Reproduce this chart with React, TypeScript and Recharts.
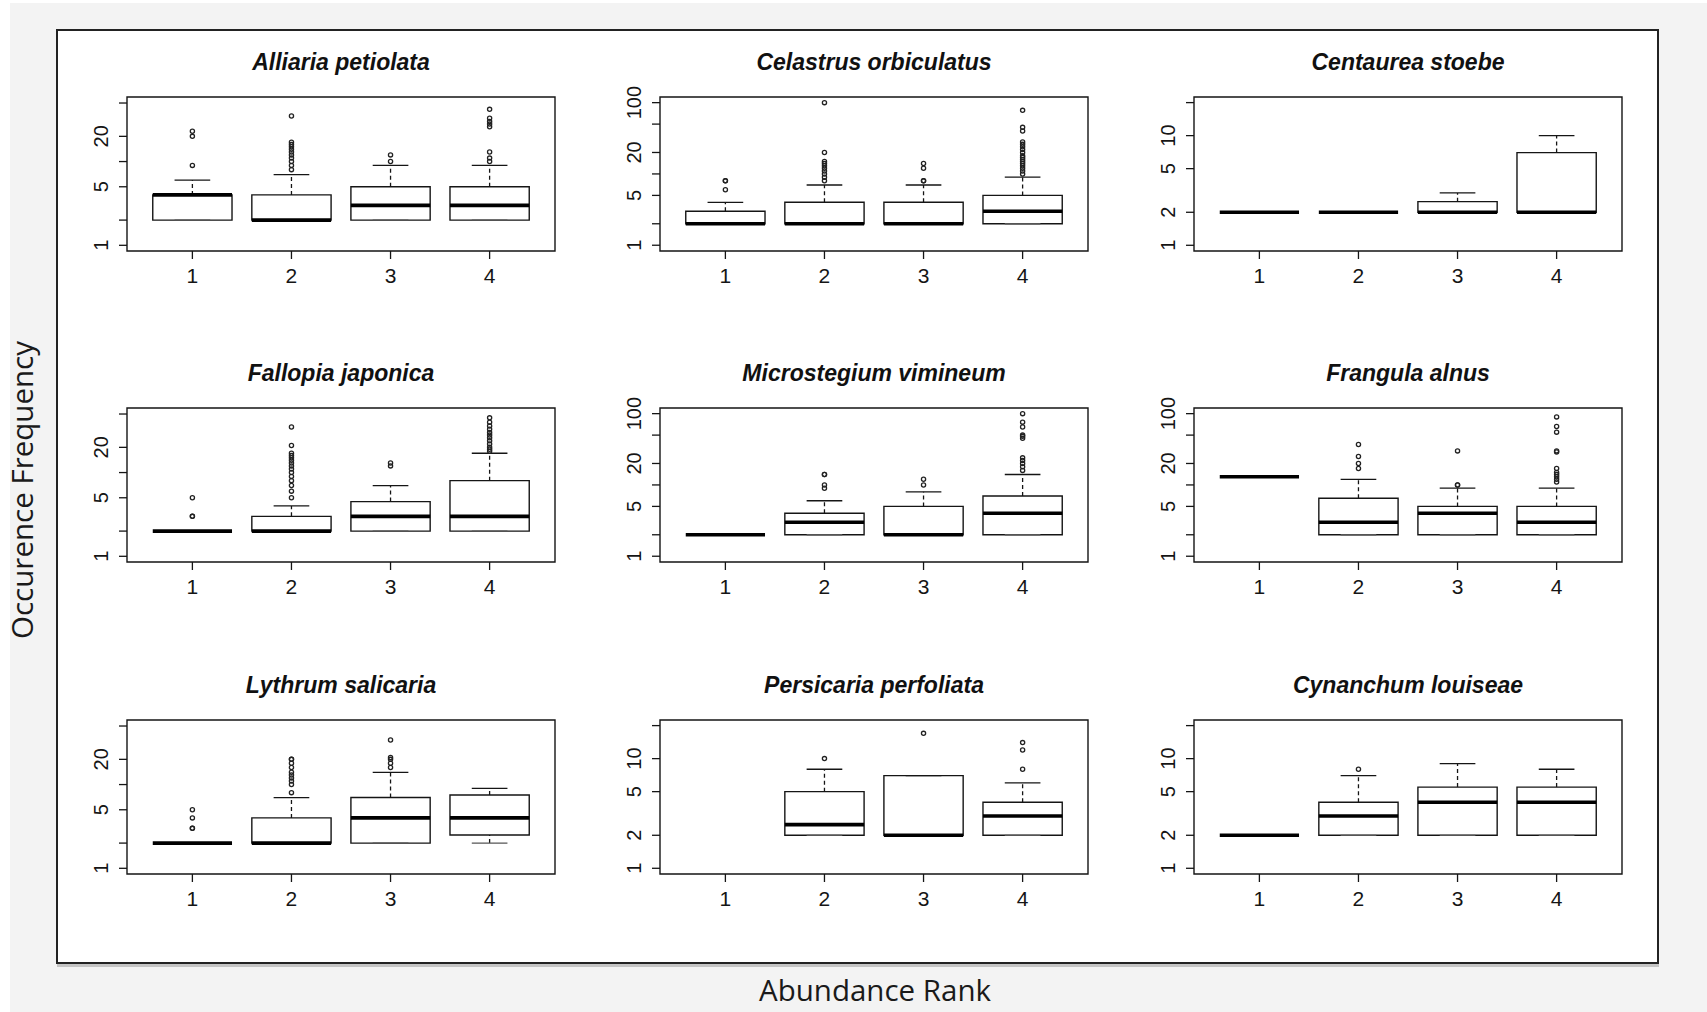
import { ComposedChart, Scatter, XAxis, YAxis, ReferenceArea, ReferenceLine } from 'recharts';

// abundance rank categories on the x axis
const ranks = [1, 2, 3, 4];

// y axis setups (log scale)
const scaleA = { domain: [0.855, 59], ticks: [1, 2, 5, 10, 20, 50], labels: [1, 5, 20] };
const scaleB = { domain: [0.83, 120], ticks: [1, 2, 5, 10, 20, 50, 100], labels: [1, 5, 20, 100] };
const scaleC = { domain: [0.887, 22.5], ticks: [1, 2, 5, 10, 20], labels: [1, 2, 5, 10] };

// box stats per rank: [lower whisker, Q1, median, Q3, upper whisker]
const alliariaBoxes = [[2, 2, 4, 4, 6], [2, 2, 2, 4, 7], [2, 2, 3, 5, 9], [2, 2, 3, 5, 9]];
const alliariaOutliers = [
  [9, 20, 23],
  [8, 9, 10, 11, 12, 13, 14, 15, 16, 17, 35],
  [10, 12],
  [10, 11, 13, 26, 28, 30, 33, 42],
];

const celastrusBoxes = [[2, 2, 2, 3, 4], [2, 2, 2, 4, 7], [2, 2, 2, 4, 7], [2, 2, 3, 5, 9]];
const celastrusOutliers = [
  [6, 8, 8],
  [8, 9, 10, 11, 12, 13, 14, 15, 20, 100],
  [8, 8, 12, 14],
  [10, 11, 12, 13, 14, 15, 16, 17, 18, 20, 22, 24, 26, 28, 40, 45, 78],
];

const centaureaBoxes = [[2, 2, 2, 2, 2], [2, 2, 2, 2, 2], [2, 2, 2, 2.5, 3], [2, 2, 2, 7, 10]];
const centaureaOutliers = [[], [], [], []];

const fallopiaBoxes = [[2, 2, 2, 2, 2], [2, 2, 2, 3, 4], [2, 2, 3, 4.5, 7], [2, 2, 3, 8, 17]];
const fallopiaOutliers = [
  [3, 3, 5],
  [5, 6, 7, 8, 9, 10, 11, 12, 13, 14, 15, 16, 17, 21, 35],
  [12, 13],
  [18, 19, 20, 22, 24, 26, 28, 30, 33, 36, 40, 45],
];

const microstegiumBoxes = [[2, 2, 2, 2, 2], [2, 2, 3, 4, 6], [2, 2, 2, 5, 8], [2, 2, 4, 7, 14]];
const microstegiumOutliers = [
  [],
  [9, 10, 14, 14],
  [10, 12],
  [16, 18, 20, 22, 24, 45, 48, 50, 65, 76, 100],
];

const frangulaBoxes = [[13, 13, 13, 13, 13], [2, 2, 3, 6.5, 12], [2, 2, 4, 5, 9], [2, 2, 3, 5, 9]];
const frangulaOutliers = [
  [],
  [17, 20, 25, 37],
  [10, 10, 30],
  [11, 12, 13, 14, 15, 17, 29, 30, 55, 66, 90],
];

const lythrumBoxes = [[2, 2, 2, 2, 2], [2, 2, 2, 4, 7], [2, 2, 4, 7, 14], [2, 2.5, 4, 7.5, 9]];
const lythrumOutliers = [
  [3, 3, 4, 5],
  [8, 10, 11, 12, 13, 14, 16, 18, 20, 20],
  [16, 18, 20, 21, 34],
  [],
];

const persicariaBoxes = [null, [2, 2, 2.5, 5, 8], [2, 2, 2, 7, 7], [2, 2, 3, 4, 6]];
const persicariaOutliers = [[], [10], [17], [8, 12, 14]];

const cynanchumBoxes = [[2, 2, 2, 2, 2], [2, 2, 3, 4, 7], [2, 2, 4, 5.5, 9], [2, 2, 4, 5.5, 8]];
const cynanchumOutliers = [[], [8], [], []];

const panels = [
  { title: 'Alliaria petiolata', boxes: alliariaBoxes, outliers: alliariaOutliers, scale: scaleA },
  { title: 'Celastrus orbiculatus', boxes: celastrusBoxes, outliers: celastrusOutliers, scale: scaleB },
  { title: 'Centaurea stoebe', boxes: centaureaBoxes, outliers: centaureaOutliers, scale: scaleC },
  { title: 'Fallopia japonica', boxes: fallopiaBoxes, outliers: fallopiaOutliers, scale: scaleA },
  { title: 'Microstegium vimineum', boxes: microstegiumBoxes, outliers: microstegiumOutliers, scale: scaleB },
  { title: 'Frangula alnus', boxes: frangulaBoxes, outliers: frangulaOutliers, scale: scaleB },
  { title: 'Lythrum salicaria', boxes: lythrumBoxes, outliers: lythrumOutliers, scale: scaleA },
  { title: 'Persicaria perfoliata', boxes: persicariaBoxes, outliers: persicariaOutliers, scale: scaleC },
  { title: 'Cynanchum louiseae', boxes: cynanchumBoxes, outliers: cynanchumOutliers, scale: scaleC },
];

const FONT = '"Liberation Sans", Arial, Helvetica, sans-serif';
const LABEL_FONT = '"Open Sans", "Noto Sans", sans-serif';
const INK = '#151515';

// plot region layout (px)
const colLeft = [127, 660, 1194];
const rowTop = [97, 408, 720];
const PLOT_W = 428;
const PLOT_H = 154;
const YW = 70;
const MT = 50;
const MR = 12;
const XH = 50;

const OutlierDot = (p: any) => (
  <circle cx={p.cx} cy={p.cy} r={2.1} fill="none" stroke="#222" strokeWidth={1.3} />
);

function Panel({ title, boxes, outliers, scale, left, top }: any) {
  const points = outliers.flatMap((vals: number[], i: number) => vals.map((v) => ({ x: ranks[i], y: v })));

  // whiskers, staples, boxes and medians, all placed in data units
  const marks: any[] = [];
  boxes.forEach((b: number[] | null, i: number) => {
    if (!b) return;
    const [lo, q1, med, q3, hi] = b;
    const x = ranks[i];
    if (hi > q3) {
      marks.push(
        <ReferenceLine key={`wu${i}`} segment={[{ x, y: q3 }, { x, y: hi }]} stroke={INK} strokeWidth={1.3} strokeDasharray="4 3" ifOverflow="visible" />
      );
    }
    if (q1 > lo) {
      marks.push(
        <ReferenceLine key={`wl${i}`} segment={[{ x, y: lo }, { x, y: q1 }]} stroke={INK} strokeWidth={1.3} strokeDasharray="4 3" ifOverflow="visible" />
      );
    }
    marks.push(
      <ReferenceLine key={`sh${i}`} segment={[{ x: x - 0.18, y: hi }, { x: x + 0.18, y: hi }]} stroke={INK} strokeWidth={1.3} ifOverflow="visible" />
    );
    marks.push(
      <ReferenceLine key={`sl${i}`} segment={[{ x: x - 0.18, y: lo }, { x: x + 0.18, y: lo }]} stroke="#555" strokeWidth={1.3} ifOverflow="visible" />
    );
    if (q3 > q1) {
      marks.push(
        <ReferenceArea key={`b${i}`} x1={x - 0.4} x2={x + 0.4} y1={q1} y2={q3} fill="none" stroke={INK} strokeWidth={1.4} ifOverflow="visible" />
      );
    }
    marks.push(
      <ReferenceLine key={`m${i}`} segment={[{ x: x - 0.4, y: med }, { x: x + 0.4, y: med }]} stroke="#000" strokeWidth={3.6} ifOverflow="visible" />
    );
  });

  const XTick = ({ x, y, payload }: any) => (
    <text x={x} y={y + 24} textAnchor="middle" fontSize={21} fontFamily={FONT} fill={INK}>
      {payload.value}
    </text>
  );

  const YTick = ({ x, y, payload }: any) =>
    scale.labels.includes(payload.value) ? (
      <text
        x={x - 10.5}
        y={y}
        transform={`rotate(-90, ${x - 10.5}, ${y})`}
        textAnchor="middle"
        fontSize={20}
        fontFamily={FONT}
        fill={INK}
      >
        {payload.value}
      </text>
    ) : (
      <g />
    );

  return (
    <>
      <div
        style={{
          position: 'absolute',
          left,
          top: top - 46.5,
          width: PLOT_W,
          textAlign: 'center',
          fontFamily: FONT,
          fontWeight: 'bold',
          fontStyle: 'italic',
          fontSize: 23,
          lineHeight: '23px',
          color: '#111',
          whiteSpace: 'nowrap',
        }}
      >
        {title}
      </div>
      <div style={{ position: 'absolute', left: left - YW, top: top - MT }}>
        <ComposedChart
          width={YW + PLOT_W + MR}
          height={MT + PLOT_H + XH}
          margin={{ top: MT, right: MR, bottom: 0, left: 0 }}
        >
          <XAxis
            type="number"
            dataKey="x"
            domain={[0.34, 4.66]}
            ticks={ranks}
            allowDataOverflow
            axisLine={false}
            tickLine={{ stroke: INK, strokeWidth: 1.3 }}
            tickSize={8}
            tickMargin={0}
            height={XH}
            tick={XTick}
            interval={0}
          />
          <YAxis
            type="number"
            dataKey="y"
            scale="log"
            domain={scale.domain}
            ticks={scale.ticks}
            allowDataOverflow
            axisLine={false}
            tickLine={{ stroke: INK, strokeWidth: 1.3 }}
            tickSize={8}
            tickMargin={0}
            width={YW}
            tick={YTick}
            interval={0}
          />
          <ReferenceArea
            x1={0.34}
            x2={4.66}
            y1={scale.domain[0]}
            y2={scale.domain[1]}
            fill="none"
            stroke={INK}
            strokeWidth={1.4}
            ifOverflow="visible"
          />
          {marks}
          <Scatter data={points} shape={OutlierDot} isAnimationActive={false} />
        </ComposedChart>
      </div>
    </>
  );
}

export default function App() {
  return (
    <div style={{ position: 'absolute', left: 0, top: 0, width: 1707, height: 1012, overflow: 'hidden', background: '#fff' }}>
      <svg width={1707} height={1012} style={{ position: 'absolute', left: 0, top: 0 }}>
        <rect x={10} y={3} width={1697} height={1009} fill="#f3f3f3" />
        <rect x={57} y={964} width={1602} height={3} fill="#c4c4c4" />
        <rect x={57} y={30} width={1601} height={933} fill="#fff" stroke="#222" strokeWidth={2} />
        <text x={875} y={1001} textAnchor="middle" fontSize={29.5} fontFamily={LABEL_FONT} fill="#1a1a1a">
          Abundance Rank
        </text>
        <text
          x={33}
          y={490}
          transform="rotate(-90, 33, 490)"
          textAnchor="middle"
          fontSize={29.5}
          fontFamily={LABEL_FONT}
          fill="#1a1a1a"
        >
          Occurence Frequency
        </text>
      </svg>
      {panels.map((p, i) => (
        <Panel key={p.title} {...p} left={colLeft[i % 3]} top={rowTop[Math.floor(i / 3)]} />
      ))}
    </div>
  );
}
